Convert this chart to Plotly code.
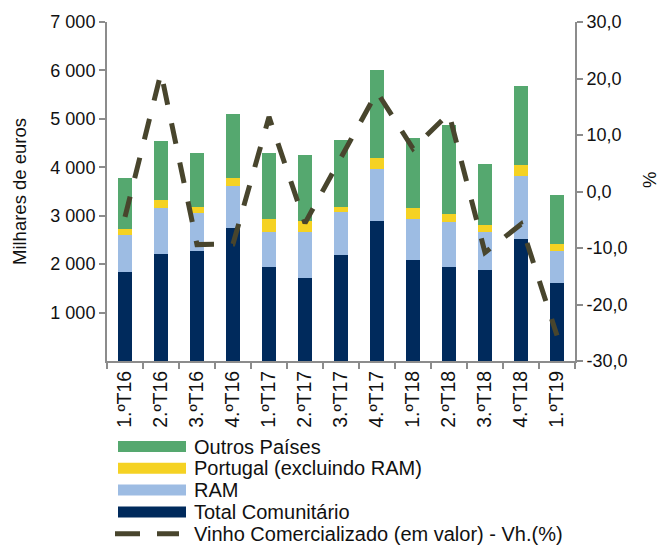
import plotly.graph_objects as go

categories = ["1.ºT16", "2.ºT16", "3.ºT16", "4.ºT16", "1.ºT17", "2.ºT17", "3.ºT17",
              "4.ºT17", "1.ºT18", "2.ºT18", "3.ºT18", "4.ºT18", "1.ºT19"]
total_comunitario = [1840, 2216, 2265, 2750, 1941, 1720, 2186, 2897, 2085, 1934, 1879, 2519, 1611]
ram = [752, 943, 794, 870, 729, 950, 884, 1074, 837, 943, 791, 1301, 667]
portugal = [130, 159, 121, 155, 262, 217, 116, 214, 246, 158, 138, 227, 138]
outros_paises = [1057, 1218, 1109, 1325, 1360, 1377, 1377, 1824, 1443, 1831, 1260, 1631, 1005]
vinho_vh = [-4.5, 21.0, -9.4, -9.3, 13.2, -5.6, 6.0, 17.6, 7.6, 13.8, -10.8, -5.8, -25.5]

left_tickvals = [1000, 2000, 3000, 4000, 5000, 6000, 7000]
left_ticktext = ["1 000", "2 000", "3 000", "4 000", "5 000", "6 000", "7 000"]
right_tickvals = [-30, -20, -10, 0, 10, 20, 30]
right_ticktext = ["-30,0", "-20,0", "-10,0", "0,0", "10,0", "20,0", "30,0"]

NAVY = "#002A5C"
LBLUE = "#9DBCE3"
YELLOW = "#F5D223"
GREEN = "#55A86F"
LINEC = "#48452D"
FONT = "Liberation Sans, Arial, sans-serif"
TXT = "#111111"

W, H = 661, 545
L, R, T, B = 107, 575, 22, 361

fig = go.Figure()
bar_series = [
    ("Total Comunitário", total_comunitario, NAVY),
    ("RAM", ram, LBLUE),
    ("Portugal (excluindo RAM)", portugal, YELLOW),
    ("Outros Países", outros_paises, GREEN),
]
for name, vals, col in bar_series:
    fig.add_trace(go.Bar(x=categories, y=vals, name=name, marker_color=col,
                         marker_line_width=0, showlegend=False))

fig.add_trace(go.Scatter(x=categories, y=vinho_vh, yaxis="y2", mode="lines",
                         name="Vinho Comercializado (em valor) - Vh.(%)",
                         line=dict(color=LINEC, width=5, dash="21px,19px"),
                         showlegend=False))

axis_col = "#8C8C8C"
fig.update_layout(
    width=W, height=H,
    margin=dict(l=L, r=W - R, t=T, b=H - B, pad=0),
    paper_bgcolor="white", plot_bgcolor="white",
    font=dict(family=FONT, size=18, color=TXT),
    barmode="stack", bargap=0.61,
    xaxis=dict(type="category", showline=True, linecolor=axis_col, linewidth=2,
               ticks="outside", tickson="boundaries", ticklen=6, tickcolor=axis_col,
               tickwidth=1.5, tickangle=-90, showgrid=False, automargin=False,
               tickfont=dict(size=19.5, family=FONT)),
    yaxis=dict(range=[0, 7000], tickvals=left_tickvals, ticktext=left_ticktext,
               showline=True, linecolor=axis_col, linewidth=2, ticks="outside",
               ticklen=6, tickcolor=axis_col, tickwidth=1.5, showgrid=False,
               zeroline=False, automargin=False,
               title=dict(text="Milhares de euros", standoff=19, font=dict(size=18.5))),
    yaxis2=dict(range=[-30, 30], tickvals=right_tickvals, ticktext=right_ticktext,
                overlaying="y", side="right", showline=True, linecolor=axis_col,
                linewidth=2, ticks="outside", ticklen=6, tickcolor=axis_col,
                tickwidth=1.5, showgrid=False, zeroline=False, automargin=False),
)

def px_x(p):
    return (p - L) / (R - L)

def px_y(p):
    return (B - p) / (B - T)

# right axis title
fig.add_annotation(xref="paper", yref="paper", x=px_x(649), y=px_y(180),
                   text="%", showarrow=False, textangle=-90,
                   xanchor="center", yanchor="middle",
                   font=dict(size=18.5, family=FONT, color=TXT))

# custom legend (below the plot), rows from top
legend_items = [("Outros Países", GREEN, "bar"),
                ("Portugal (excluindo RAM)", YELLOW, "bar"),
                ("RAM", LBLUE, "bar"),
                ("Total Comunitário", NAVY, "bar"),
                ("Vinho Comercializado (em valor) - Vh.(%)", LINEC, "line")]

row0, step = 446.5, 21.8
for i, (name, col, kind) in enumerate(legend_items):
    yc = row0 + i * step
    if kind == "bar":
        fig.add_shape(type="rect", xref="paper", yref="paper",
                      x0=px_x(118), x1=px_x(186), y0=px_y(yc - 5.5), y1=px_y(yc + 5.5),
                      fillcolor=col, line_width=0)
    else:
        fig.add_shape(type="line", xref="paper", yref="paper",
                      x0=px_x(115), x1=px_x(179), y0=px_y(yc), y1=px_y(yc),
                      line=dict(color=col, width=5, dash="25px,17px"))
    fig.add_annotation(xref="paper", yref="paper", x=px_x(192), y=px_y(yc),
                       xanchor="left", yanchor="middle", text=name, showarrow=False,
                       font=dict(size=20, family=FONT, color=TXT))

fig.write_html("out.html", config={"displayModeBar": False},
               post_script="document.body.style.margin='0';")
